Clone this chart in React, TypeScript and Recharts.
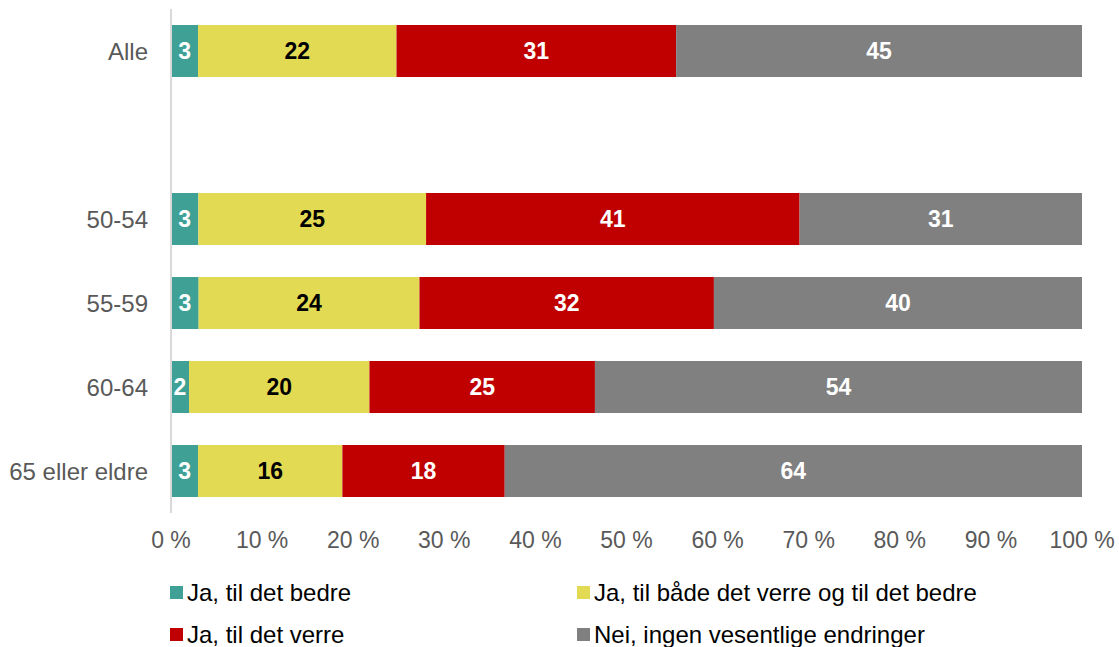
import { Bar, BarChart, LabelList, XAxis, YAxis } from "recharts";

const categories = ["Alle", " ", "50-54", "55-59", "60-64", "65 eller eldre"];
const better = [3, null, 3, 3, 2, 3];
const both = [22, null, 25, 24, 20, 16];
const worse = [31, null, 41, 32, 25, 18];
const none = [45, null, 31, 40, 54, 64];
const xTicks = [0, 0.1, 0.2, 0.3, 0.4, 0.5, 0.6, 0.7, 0.8, 0.9, 1];

const SERIES = [
  { key: "better", label: "Ja, til det bedre", color: "#3fa195", text: "#ffffff", values: better },
  { key: "both", label: "Ja, til både det verre og til det bedre", color: "#e2da52", text: "#000000", values: both },
  { key: "worse", label: "Ja, til det verre", color: "#c00000", text: "#ffffff", values: worse },
  { key: "none", label: "Nei, ingen vesentlige endringer", color: "#808080", text: "#ffffff", values: none },
];

const data = categories.map((name, i) => {
  const row: Record<string, string | number | null> = { name };
  SERIES.forEach((s) => {
    row[s.key] = s.values[i];
  });
  return row;
});

const FONT = '"Liberation Sans", Arial, Helvetica, sans-serif';

// legend drawn as plain HTML so it does not eat into the plot height
function LegendBox() {
  return (
    <div
      style={{
        position: "absolute",
        left: 170,
        top: 579,
        display: "grid",
        gridTemplateColumns: "407px 500px",
        rowGap: 15,
        fontFamily: FONT,
        fontSize: 24,
        color: "#000",
      }}
    >
      {SERIES.map((s) => (
        <div key={s.key} style={{ display: "flex", alignItems: "center", height: 27 }}>
          <span style={{ width: 13, height: 13, background: s.color, marginRight: 4, display: "inline-block" }} />
          <span style={{ whiteSpace: "nowrap" }}>{s.label}</span>
        </div>
      ))}
    </div>
  );
}

export default function App() {
  return (
    <div style={{ position: "absolute", left: 0, top: 0, width: 1119, height: 647, background: "#fff" }}>
      <BarChart
        width={1119}
        height={647}
        data={data}
        layout="vertical"
        stackOffset="expand"
        barSize={52}
        margin={{ top: 9, right: 37, bottom: 94, left: 0 }}
      >
        <XAxis
          type="number"
          domain={[0, 1]}
          ticks={xTicks}
          tickFormatter={(v: number) => `${Math.round(v * 100)} %`}
          axisLine={false}
          tickLine={false}
          tickMargin={13}
          height={40}
          tick={{ fontSize: 23, fill: "#595959", fontFamily: FONT }}
          interval={0}
        />
        <YAxis
          type="category"
          dataKey="name"
          width={171}
          axisLine={{ stroke: "#d9d9d9", strokeWidth: 2 }}
          tickLine={false}
          tickMargin={17}
          tick={{ fontSize: 24, fill: "#595959", fontFamily: FONT }}
          interval={0}
        />
        {SERIES.map((s) => (
          <Bar key={s.key} dataKey={s.key} name={s.label} stackId="a" fill={s.color} isAnimationActive={false}>
            <LabelList
              dataKey={s.key}
              position="center"
              fill={s.text}
              style={{ fontSize: 23, fontWeight: 700, fontFamily: FONT }}
            />
          </Bar>
        ))}
      </BarChart>
      <LegendBox />
    </div>
  );
}
